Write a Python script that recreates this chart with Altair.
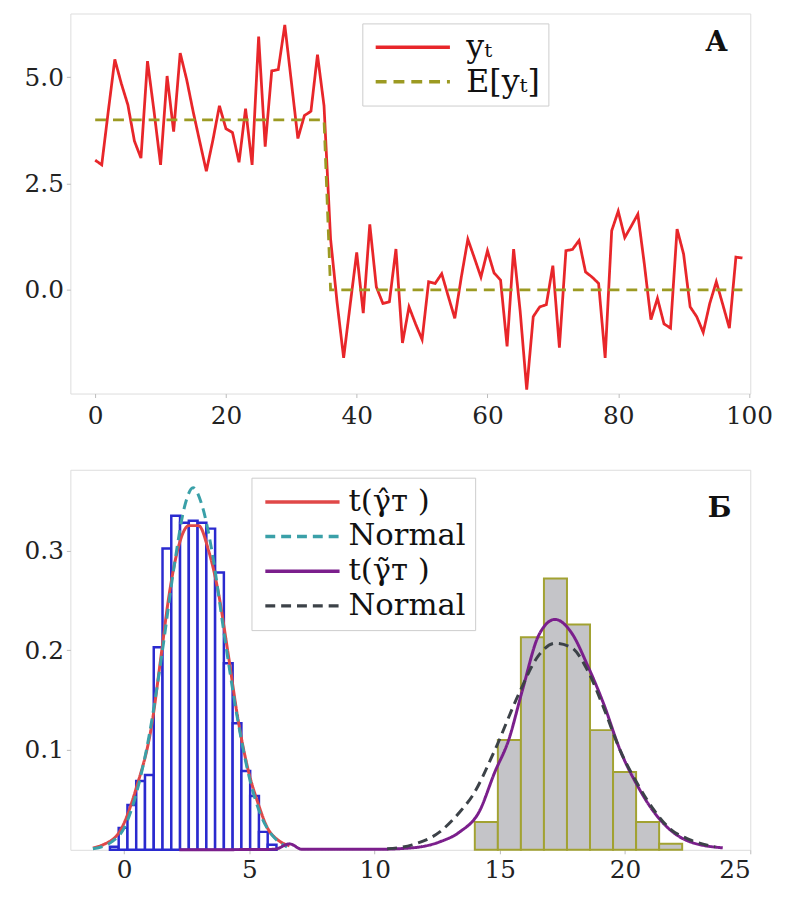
import altair as alt
import pandas as pd

# ---------------- Panel А : time series ----------------
t_vals = list(range(100))
y_vals = [3.05, 2.94, 4.2, 5.42, 4.85, 4.35, 3.5, 3.1, 5.38, 4.2,
          2.94, 5.03, 3.72, 5.57, 4.94, 4.18, 3.48, 2.79, 3.52, 4.33,
          3.79, 3.7, 3.0, 4.26, 2.94, 5.96, 3.37, 5.15, 5.18, 6.23,
          4.9, 3.56, 4.1, 4.2, 5.53, 4.33, 1.2, -0.3, -1.6, -0.35,
          0.88, -0.55, 1.54, 0.07, -0.32, -0.28, 0.96, -1.25, -0.4, -0.8,
          -1.17, 0.19, 0.15, 0.38, -0.15, -0.67, 0.3, 1.19, 0.75, 0.3,
          0.92, 0.4, 0.23, -1.33, 0.96, -0.5, -2.35, -0.63, -0.4, -0.35,
          0.57, -1.36, 0.92, 0.95, 1.16, 0.42, 0.3, 0.15, -1.6, 1.39,
          1.85, 1.23, 1.5, 1.78, 0.6, -0.7, -0.2, -0.8, -0.9, 1.43,
          0.84, -0.4, -0.63, -1.0, -0.32, 0.19, -0.35, -0.9, 0.77, 0.75]
e_t = [0, 35, 36, 99]
e_vals = [4.0, 4.0, 0.0, 0.0]
top_x_ticks = [0, 20, 40, 60, 80, 100]
top_y_ticks = [0.0, 2.5, 5.0]

# ---------------- Panel Б : histograms and densities ----------------
blue_edges = [-0.57, -0.22, 0.13, 0.48, 0.83, 1.18, 1.53, 1.88, 2.23, 2.58,
              2.93, 3.28, 3.63, 3.98, 4.33, 4.68, 5.03, 5.38, 5.73, 6.08]
blue_heights = [0.003, 0.022, 0.045, 0.069, 0.075, 0.203, 0.302, 0.335, 0.328,
                0.33, 0.328, 0.322, 0.278, 0.187, 0.127, 0.079, 0.054, 0.018, 0.005]
gray_edges = [14.0, 14.92, 15.84, 16.76, 17.68, 18.6, 19.52, 20.44, 21.36, 22.28]
gray_heights = [0.028, 0.11, 0.213, 0.272, 0.226, 0.12, 0.078, 0.028, 0.006]

red_x = [-1.25, -0.85, -0.19, 0.47, 1.13, 1.45, 1.79, 2.18, 2.58, 2.97,
         3.37, 3.76, 4.16, 4.55, 4.95, 5.34, 5.74, 6.13, 6.6]
red_y = [0.002, 0.005, 0.018, 0.061, 0.13, 0.19, 0.255, 0.305, 0.325, 0.325,
         0.3, 0.258, 0.195, 0.13, 0.08, 0.047, 0.021, 0.01, 0.004]
teal_x = [-1.25, -0.5, 0.0, 0.5, 1.0, 1.5, 2.0, 2.4, 2.75, 3.1,
          3.5, 4.0, 4.5, 5.0, 5.5, 6.0, 6.5]
teal_y = [0.001, 0.008, 0.022, 0.058, 0.115, 0.195, 0.285, 0.343, 0.363, 0.346,
          0.3, 0.215, 0.135, 0.072, 0.032, 0.012, 0.003]
purple_x = [2.2, 6.0, 6.6, 7.1, 10.0, 11.5, 12.6, 13.4, 14.17, 14.8,
            15.35, 15.9, 16.55, 17.2, 17.85, 18.5, 19.15, 19.8, 20.5, 21.15,
            21.8, 22.6, 23.9]
purple_y = [0.0, 0.0005, 0.006, 0.0005, 0.0005, 0.002, 0.008, 0.018, 0.038, 0.078,
            0.11, 0.16, 0.215, 0.231, 0.218, 0.185, 0.146, 0.1, 0.064, 0.038,
            0.02, 0.008, 0.002]
dark_x = [10.5, 11.5, 12.6, 13.4, 13.9, 14.8, 15.75, 16.55, 17.2, 17.85,
          18.5, 19.15, 19.8, 20.5, 21.15, 21.8, 22.6, 23.6]
dark_y = [0.001, 0.005, 0.018, 0.038, 0.054, 0.1, 0.156, 0.195, 0.207, 0.203,
          0.18, 0.142, 0.1, 0.066, 0.04, 0.021, 0.01, 0.003]
bot_x_ticks = [0, 5, 10, 15, 20, 25]
bot_y_ticks = [0.1, 0.2, 0.3]

panel_labels = ["А", "Б"]

# ---------------- tables ----------------
top_df = pd.concat([
    pd.DataFrame({"t": t_vals, "v": y_vals, "s": "y"}),
    pd.DataFrame({"t": e_t, "v": e_vals, "s": "E"}),
], ignore_index=True)

blue_df = pd.DataFrame({"x0": blue_edges[:-1], "x1": blue_edges[1:], "h": blue_heights})
gray_df = pd.DataFrame({"x0": gray_edges[:-1], "x1": gray_edges[1:], "h": gray_heights})
curves_df = pd.concat([
    pd.DataFrame({"x": red_x, "d": red_y, "k": "a"}),
    pd.DataFrame({"x": teal_x, "d": teal_y, "k": "b"}),
    pd.DataFrame({"x": purple_x, "d": purple_y, "k": "c"}),
    pd.DataFrame({"x": dark_x, "d": dark_y, "k": "d"}),
], ignore_index=True)

SERIF = "DejaVu Serif"
W = 687
H_TOP, H_BOT = 384, 384
LEG_PATH = "M -6 0 H 6"

axis_common = dict(domain=False, ticks=True, tickColor="#bbbbbb", tickSize=4,
                   labelFont=SERIF, labelFontSize=25, labelColor="#222222",
                   grid=False, title=None)

# ---------------- top panel ----------------
top_x = alt.X("t:Q", scale=alt.Scale(domain=[-3.8, 100.2], nice=False, zero=False),
              axis=alt.Axis(values=top_x_ticks, format="d", labelPadding=6,
                            minExtent=36, maxExtent=36, **axis_common))
top_y = alt.Y("v:Q", scale=alt.Scale(domain=[-2.44, 6.5], nice=False, zero=False),
              axis=alt.Axis(values=top_y_ticks, format=".1f", labelPadding=3,
                            minExtent=57, maxExtent=57, **axis_common))

top_legend = alt.Legend(
    title=None, orient="none", legendX=295, legendY=10,
    fillColor="white", strokeColor="#cccccc", padding=8,
    symbolType=LEG_PATH, symbolSize=156.25, symbolStrokeWidth=3.5,
    symbolOffset=27, labelOffset=38, rowPadding=3,
    labelFont=SERIF, labelFontSize=32, labelColor="#111111",
    labelExpr="datum.value == 'y' ? 'y\u209c' : 'E[y\u209c]'",
)

top_lines = alt.Chart(top_df).mark_line(strokeWidth=2.8).encode(
    x=top_x, y=top_y,
    color=alt.Color("s:N", scale=alt.Scale(domain=["y", "E"], range=["#e8262a", "#9c9a22"]),
                    legend=top_legend),
    strokeDash=alt.StrokeDash("s:N", scale=alt.Scale(domain=["y", "E"], range=[[1, 0], [11, 7]]),
                              legend=top_legend),
    order=alt.Order("t:Q"),
)
top_label = alt.Chart(pd.DataFrame({"lab": [panel_labels[0]]})).mark_text(
    font=SERIF, fontSize=28, fontWeight="bold", color="#111111", align="center", baseline="middle"
).encode(text="lab:N", x=alt.value(653), y=alt.value(30))

top = alt.layer(top_lines, top_label).properties(width=W, height=H_TOP)

# ---------------- bottom panel ----------------
bx_scale = alt.Scale(domain=[-2.15, 25], nice=False, zero=False)
by_scale = alt.Scale(domain=[0, 0.381], nice=False, zero=False)
bx_axis = alt.Axis(values=bot_x_ticks, format="d", labelPadding=4,
                   minExtent=33, maxExtent=33, **axis_common)
by_axis = alt.Axis(values=bot_y_ticks, format=".1f", labelPadding=3,
                   minExtent=57, maxExtent=57, **axis_common)

gray_bars = alt.Chart(gray_df).mark_bar(fill="#c4c4c8", stroke="#a2a232", strokeWidth=2).encode(
    x=alt.X("x0:Q", scale=bx_scale, axis=bx_axis), x2="x1:Q",
    y=alt.Y("h:Q", scale=by_scale, axis=by_axis), y2=alt.datum(0),
)
blue_bars = alt.Chart(blue_df).mark_bar(fill="white", stroke="#2a2acf", strokeWidth=2.5).encode(
    x=alt.X("x0:Q", scale=bx_scale, axis=bx_axis), x2="x1:Q",
    y=alt.Y("h:Q", scale=by_scale, axis=by_axis), y2=alt.datum(0),
)

bot_legend = alt.Legend(
    title=None, orient="none", legendX=183, legendY=8,
    fillColor="white", strokeColor="#cccccc", padding=9,
    symbolType=LEG_PATH, symbolSize=156.25, symbolStrokeWidth=3.5,
    symbolOffset=27, labelOffset=31, rowPadding=3,
    labelFont=SERIF, labelFontSize=31, labelColor="#111111",
    labelExpr=("datum.value == 'a' ? 't(\u03b3\u0302\u1d1b )' : "
               "datum.value == 'c' ? 't(\u03b3\u0303\u1d1b )' : 'Normal'"),
)
curves = alt.Chart(curves_df).mark_line(strokeWidth=3, interpolate="monotone").encode(
    x=alt.X("x:Q", scale=bx_scale, axis=bx_axis),
    y=alt.Y("d:Q", scale=by_scale, axis=by_axis),
    color=alt.Color("k:N", scale=alt.Scale(domain=["a", "b", "c", "d"],
                                           range=["#e04848", "#3aa0a8", "#7b1f8c", "#3c4248"]),
                    legend=bot_legend),
    strokeDash=alt.StrokeDash("k:N", scale=alt.Scale(domain=["a", "b", "c", "d"],
                                                     range=[[1, 0], [10, 6], [1, 0], [10, 6]]),
                              legend=bot_legend),
    order=alt.Order("x:Q"),
)
bot_label = alt.Chart(pd.DataFrame({"lab": [panel_labels[1]]})).mark_text(
    font=SERIF, fontSize=28, fontWeight="bold", color="#111111", align="center", baseline="middle"
).encode(text="lab:N", x=alt.value(656), y=alt.value(40))

bottom = alt.layer(gray_bars, blue_bars, curves, bot_label).properties(width=W, height=H_BOT)

chart = alt.vconcat(top, bottom, spacing=39).resolve_scale(
    color="independent", strokeDash="independent"
).configure_view(stroke="#c8c8c8", strokeWidth=1.5).configure(
    padding={"left": 5, "top": 0, "right": 5, "bottom": 0}, background="white"
)

chart.save("out.html", embed_options={"renderer": "svg", "actions": False})
